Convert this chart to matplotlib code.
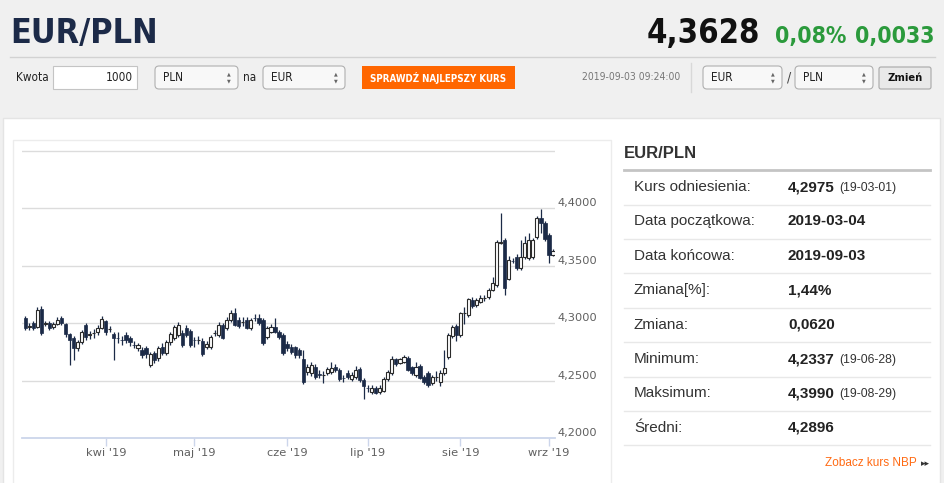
import matplotlib
matplotlib.use('Agg')
import matplotlib.pyplot as plt
from matplotlib.patches import Rectangle, FancyBboxPatch
import numpy as np
import pandas as pd

# daily EUR/PLN candles, 2019-03-04 .. 2019-09-03
opens = [4.3043, 4.2965, 4.3000, 4.2965, 4.3122, 4.2995, 4.3000, 4.2965, 4.2991, 4.3043,
         4.2991, 4.2904, 4.2869, 4.2782, 4.2834, 4.2982, 4.2900, 4.2910, 4.2921, 4.2956,
         4.3017, 4.2945, 4.2904, 4.2872, 4.2855, 4.2895, 4.2869, 4.2812, 4.2782, 4.2765,
         4.2782, 4.2634, 4.2739, 4.2695, 4.2791, 4.2739, 4.2834, 4.2869, 4.2895, 4.2913,
         4.2956, 4.2930, 4.2855, 4.2850, 4.2843, 4.2791, 4.2791, 4.2910, 4.2895, 4.2982,
         4.2956, 4.3026, 4.3087, 4.3026, 4.3005, 4.3026, 4.2956, 4.3045, 4.3043, 4.3026,
         4.2878, 4.2921, 4.2965, 4.2921, 4.2895, 4.2817, 4.2791, 4.2791, 4.2765, 4.2686,
         4.2573, 4.2565, 4.2617, 4.2555, 4.2545, 4.2565, 4.2573, 4.2617, 4.2591, 4.2523,
         4.2565, 4.2512, 4.2530, 4.2599, 4.2504, 4.2436, 4.2399, 4.2434, 4.2399, 4.2408,
         4.2512, 4.2565, 4.2686, 4.2652, 4.2660, 4.2695, 4.2617, 4.2547, 4.2625, 4.2530,
         4.2565, 4.2478, 4.2528, 4.2486, 4.2565, 4.2704, 4.2886, 4.2973, 4.2895, 4.3085,
         4.3069, 4.3200, 4.3156, 4.3182, 4.3215, 4.3226, 4.3287, 4.3330, 4.3700, 4.3722,
         4.3383, 4.3542, 4.3574, 4.3478, 4.3574, 4.3565, 4.3574, 4.3748, 4.3913, 4.3870,
         4.3765, 4.3591]
closes = [4.2956, 4.2975, 4.2956, 4.3113, 4.2913, 4.3000, 4.2956, 4.2991, 4.3026, 4.3000,
          4.2904, 4.2852, 4.2782, 4.2834, 4.2921, 4.2878, 4.2908, 4.2915, 4.2956, 4.3034,
          4.2921, 4.2950, 4.2869, 4.2868, 4.2850, 4.2852, 4.2834, 4.2808, 4.2808, 4.2721,
          4.2730, 4.2730, 4.2678, 4.2782, 4.2739, 4.2834, 4.2904, 4.2965, 4.2982, 4.2808,
          4.2895, 4.2808, 4.2850, 4.2855, 4.2730, 4.2817, 4.2878, 4.2915, 4.2982, 4.2869,
          4.3026, 4.3087, 4.2982, 4.2973, 4.3010, 4.2956, 4.3026, 4.3040, 4.3000, 4.2826,
          4.2956, 4.2965, 4.2921, 4.2878, 4.2739, 4.2782, 4.2747, 4.2721, 4.2721, 4.2486,
          4.2617, 4.2634, 4.2530, 4.2550, 4.2550, 4.2599, 4.2608, 4.2591, 4.2512, 4.2520,
          4.2530, 4.2547, 4.2591, 4.2504, 4.2451, 4.2432, 4.2434, 4.2391, 4.2434, 4.2512,
          4.2573, 4.2686, 4.2643, 4.2686, 4.2704, 4.2591, 4.2565, 4.2617, 4.2521, 4.2486,
          4.2460, 4.2530, 4.2532, 4.2565, 4.2608, 4.2895, 4.2965, 4.2895, 4.3087, 4.3090,
          4.3208, 4.3147, 4.3200, 4.3217, 4.3220, 4.3287, 4.3348, 4.3704, 4.3708, 4.3304,
          4.3548, 4.3538, 4.3478, 4.3574, 4.3696, 4.3722, 4.3722, 4.3913, 4.3870, 4.3730,
          4.3591, 4.3628]
highs = [4.3060, 4.3000, 4.3020, 4.3139, 4.3148, 4.3020, 4.3020, 4.3010, 4.3050, 4.3060,
         4.3000, 4.2910, 4.2890, 4.2850, 4.2940, 4.3000, 4.2930, 4.2950, 4.2980, 4.3060,
         4.3030, 4.2970, 4.2920, 4.2920, 4.2890, 4.2920, 4.2890, 4.2840, 4.2830, 4.2790,
         4.2800, 4.2750, 4.2760, 4.2800, 4.2830, 4.2850, 4.2920, 4.2980, 4.3008, 4.2940,
         4.2980, 4.2950, 4.2880, 4.2890, 4.2870, 4.2840, 4.2900, 4.2940, 4.3008, 4.3000,
         4.3050, 4.3110, 4.3130, 4.3050, 4.3050, 4.3050, 4.3040, 4.3080, 4.3078, 4.3040,
         4.2970, 4.2990, 4.3043, 4.2940, 4.2910, 4.2840, 4.2820, 4.2800, 4.2780, 4.2765,
         4.2640, 4.2660, 4.2640, 4.2590, 4.2580, 4.2620, 4.2660, 4.2640, 4.2610, 4.2550,
         4.2590, 4.2570, 4.2625, 4.2620, 4.2520, 4.2460, 4.2460, 4.2450, 4.2460, 4.2530,
         4.2590, 4.2710, 4.2700, 4.2700, 4.2720, 4.2710, 4.2630, 4.2660, 4.2640, 4.2550,
         4.2580, 4.2550, 4.2580, 4.2590, 4.2765, 4.2910, 4.2980, 4.2990, 4.3100, 4.3140,
         4.3220, 4.3225, 4.3220, 4.3240, 4.3245, 4.3305, 4.3400, 4.3720, 4.3957, 4.3740,
         4.3580, 4.3565, 4.3600, 4.3720, 4.3760, 4.3780, 4.3740, 4.3930, 4.3990, 4.3890,
         4.3780, 4.3640]
lows = [4.2940, 4.2940, 4.2940, 4.2956, 4.2900, 4.2970, 4.2940, 4.2950, 4.2980, 4.2980,
        4.2880, 4.2634, 4.2678, 4.2760, 4.2820, 4.2850, 4.2860, 4.2870, 4.2900, 4.2945,
        4.2900, 4.2920, 4.2678, 4.2830, 4.2810, 4.2830, 4.2800, 4.2780, 4.2760, 4.2700,
        4.2700, 4.2615, 4.2650, 4.2670, 4.2720, 4.2720, 4.2810, 4.2850, 4.2880, 4.2790,
        4.2880, 4.2790, 4.2790, 4.2820, 4.2710, 4.2770, 4.2770, 4.2890, 4.2880, 4.2860,
        4.2940, 4.3010, 4.2970, 4.2960, 4.2970, 4.2945, 4.2940, 4.3020, 4.2980, 4.2810,
        4.2860, 4.2910, 4.2910, 4.2860, 4.2720, 4.2760, 4.2730, 4.2700, 4.2700, 4.2470,
        4.2550, 4.2540, 4.2510, 4.2520, 4.2478, 4.2550, 4.2560, 4.2570, 4.2500, 4.2490,
        4.2510, 4.2500, 4.2510, 4.2490, 4.2337, 4.2400, 4.2380, 4.2380, 4.2380, 4.2400,
        4.2500, 4.2550, 4.2630, 4.2640, 4.2650, 4.2580, 4.2550, 4.2530, 4.2510, 4.2470,
        4.2445, 4.2460, 4.2500, 4.2455, 4.2550, 4.2690, 4.2870, 4.2840, 4.2880, 4.2990,
        4.3050, 4.3130, 4.3140, 4.3170, 4.3190, 4.3210, 4.3275, 4.3310, 4.3690, 4.3243,
        4.3370, 4.3520, 4.3465, 4.3465, 4.3560, 4.3550, 4.3555, 4.3730, 4.3780, 4.3710,
        4.3520, 4.3580]

month_names = ['sty', 'lut', 'mar', 'kwi', 'maj', 'cze', 'lip', 'sie', 'wrz', 'paź', 'lis', 'gru']
y_ticks = [4.20, 4.25, 4.30, 4.35, 4.40, 4.45]
y_labels = ['4,2000', '4,2500', '4,3000', '4,3500', '4,4000', '']

stat_names = ['Kurs odniesienia:', 'Data początkowa:', 'Data końcowa:', 'Zmiana[%]:',
              'Zmiana:', 'Minimum:', 'Maksimum:', 'Średni:']
stat_values = ['4,2975', '2019-03-04', '2019-09-03', '1,44%', '0,0620', '4,2337', '4,3990', '4,2896']
stat_dates = ['(19-03-01)', '', '', '', '', '(19-06-28)', '(19-08-29)', '']

COND = dict(family='DejaVu Sans', stretch='condensed')
SANS = ['Liberation Sans', 'DejaVu Sans']
W, H = 945, 483

fig = plt.figure(figsize=(W / 100, H / 100), dpi=100, facecolor='#f0f0f0')

# page layer in pixel coordinates
bg = fig.add_axes([0, 0, 1, 1])
bg.set_xlim(0, W)
bg.set_ylim(H, 0)
bg.axis('off')

# header
bg.text(10, 43, 'EUR/PLN', weight='bold', fontsize=24.5, color='#1c2a48', va='baseline', **COND)
bg.text(760, 43, '4,3628', weight='bold', fontsize=23.5, color='#111111', va='baseline', ha='right', **COND)
bg.text(775, 43, '0,08%', weight='bold', fontsize=16.5, color='#2b9a3c', va='baseline', **COND)
bg.text(935, 43, '0,0033', weight='bold', fontsize=16.5, color='#2b9a3c', va='baseline', ha='right', **COND)
bg.plot([10, 935], [57, 57], color='#d2d2d2', lw=1)


def select_box(x, w, label):
    bg.add_patch(FancyBboxPatch((x, 66), w, 23, boxstyle='round,pad=0,rounding_size=4',
                                fc='#f8f8f8', ec='#b0b0b0', lw=0.8))
    bg.text(x + 8, 77.5, label, fontsize=8.5, color='#222222', va='center', **COND)
    bg.text(x + w - 9, 74, '\u25b2', fontsize=3.5, color='#666666', ha='center', va='center')
    bg.text(x + w - 9, 81, '\u25bc', fontsize=3.5, color='#666666', ha='center', va='center')


bg.text(16, 77.5, 'Kwota', fontsize=8.5, color='#222222', va='center', **COND)
bg.add_patch(Rectangle((53, 66), 84, 23, fc='white', ec='#c4c4c4', lw=0.8))
bg.text(133, 77.5, '1000', fontsize=8.5, color='#222222', va='center', ha='right', **COND)
select_box(155, 83, 'PLN')
bg.text(243, 77.5, 'na', fontsize=8.5, color='#222222', va='center', **COND)
select_box(263, 82, 'EUR')
bg.add_patch(Rectangle((362, 66), 153, 23, fc='#ff6600', ec='none'))
bg.text(438.5, 77.5, 'SPRAWDŹ NAJLEPSZY KURS', weight='bold', fontsize=7,
        color='white', va='center', ha='center', **COND)
bg.text(680, 77.5, '2019-09-03 09:24:00', fontsize=7.5, color='#777777',
        va='center', ha='right', **COND)
bg.plot([691, 691], [63, 92], color='#d8d8d8', lw=1)
select_box(703, 79, 'EUR')
bg.text(789, 77.5, '/', fontsize=10, color='#444444', va='center', ha='center', **COND)
select_box(795, 78, 'PLN')
bg.add_patch(FancyBboxPatch((879, 67), 52, 22, boxstyle='round,pad=0,rounding_size=2',
                            fc='#e9e9e9', ec='#a8a8a8', lw=0.8))
bg.text(905, 78, 'Zmień', weight='bold', fontsize=8, color='#111111',
        va='center', ha='center', **COND)

# white panel and chart frame
bg.add_patch(Rectangle((3, 118), 937, 380, fc='white', ec='#e4e4e4', lw=1))
bg.add_patch(Rectangle((13, 140), 598, 360, fc='white', ec='#ececec', lw=1))

# stats table
bg.text(624, 153, 'EUR/PLN', family=SANS, weight='bold', fontsize=12, color='#333333', va='center')
bg.plot([624, 930], [170, 170], color='#c4c4c4', lw=2)
for k in range(len(stat_names)):
    yc = 187 + 34.4 * k
    bg.text(634, yc, stat_names[k], family=SANS, fontsize=11, color='#333333', va='center')
    bg.text(788, yc, stat_values[k], family=SANS, weight='bold', fontsize=11, color='#222222', va='center')
    if stat_dates[k]:
        bg.text(839, yc + 1, stat_dates[k], family=SANS, fontsize=8.8, color='#333333', va='center')
    bg.plot([624, 930], [yc + 17.5, yc + 17.5], color='#e8e8e8', lw=1)
bg.text(917, 463, 'Zobacz kurs NBP', family=SANS, fontsize=8.5, color='#ff6a13', va='center', ha='right')
bg.text(921, 463.5, '\u25b8\u25b8', family='DejaVu Sans', fontsize=6.5, color='#333333', va='center')

# candlestick chart
dates = pd.bdate_range('2019-03-04', '2019-09-03')
idx = np.arange(len(closes))
o = np.array(opens)
c = np.array(closes)
up = c >= o
body_lo = np.minimum(o, c)
body_h = np.maximum(np.abs(c - o), 0.0005)

ax = fig.add_axes([22 / W, (H - 438) / H, (555 - 22) / W, (438 - 150) / H])
ax.set_facecolor('none')
ax.vlines(idx, lows, highs, color='#1b2a47', lw=0.9, zorder=2)
ax.bar(idx[up], body_h[up], bottom=body_lo[up], width=0.8, color='white',
       edgecolor='#2a2a2a', lw=0.8, zorder=3)
ax.bar(idx[~up], body_h[~up], bottom=body_lo[~up], width=0.8, color='#1b2a47',
       edgecolor='#1b2a47', lw=0.5, zorder=3)

ax.set_xlim(-0.8, 131.5)
ax.set_ylim(4.20, 4.4505)
ax.set_yticks(y_ticks)
ax.set_yticklabels(y_labels)
ax.yaxis.tick_right()
ax.tick_params(axis='y', length=0, pad=2, labelsize=8.2, labelcolor='#606060')
for lab in ax.get_yticklabels():
    lab.set_va('bottom')
ax.grid(axis='y', color='#dcdcdc', lw=1)
ax.set_axisbelow(True)

first_days = [i for i in range(1, len(dates)) if dates[i].month != dates[i - 1].month]
ax.set_xticks(first_days)
ax.set_xticklabels([month_names[dates[i].month - 1] + " '" + dates[i].strftime('%y') for i in first_days])
ax.tick_params(axis='x', length=6, width=1, color='#ccd6eb', pad=1, labelsize=8.2, labelcolor='#606060')

for s in ['top', 'left', 'right']:
    ax.spines[s].set_visible(False)
ax.spines['bottom'].set_color('#ccd6eb')
ax.spines['bottom'].set_linewidth(1.3)

fig.savefig('out.png', dpi=100, facecolor=fig.get_facecolor())
